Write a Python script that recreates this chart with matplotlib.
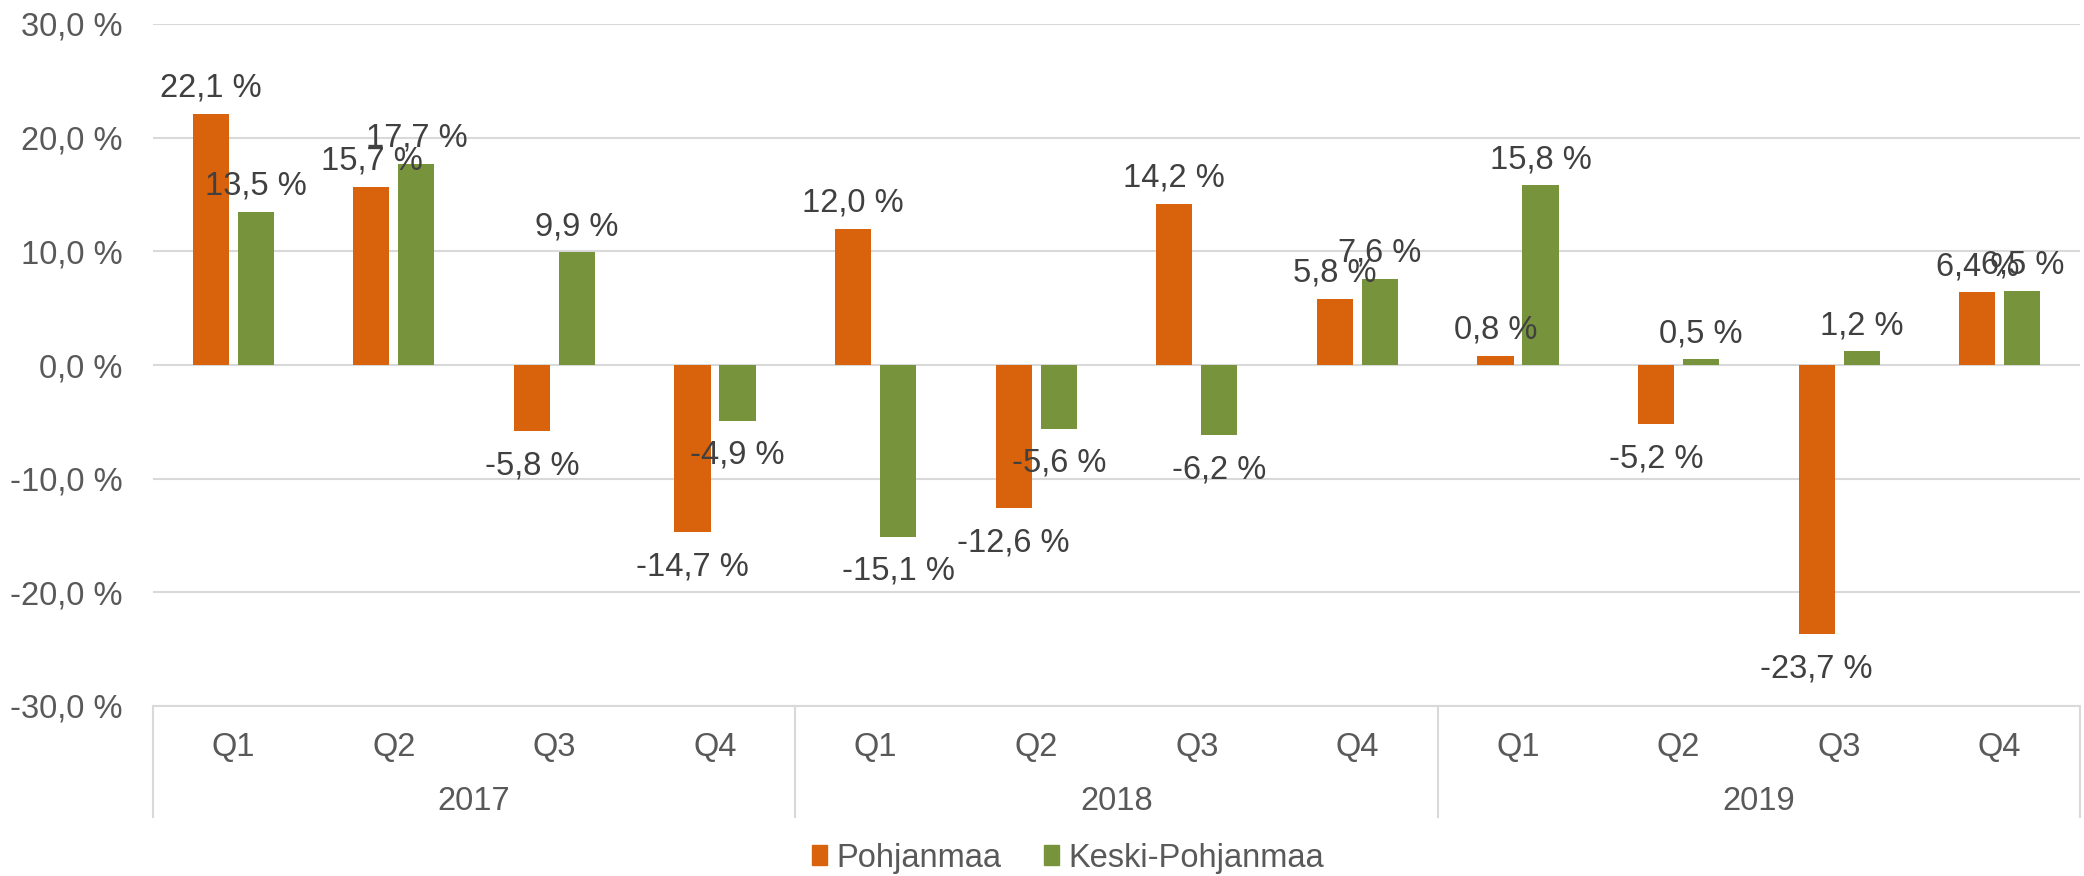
import matplotlib
matplotlib.use("Agg")
import matplotlib.pyplot as plt
import matplotlib.transforms as mtransforms
from matplotlib.patches import Patch
import numpy as np

plt.rcParams['font.family'] = ['Liberation Sans', 'DejaVu Sans']

quarters = ["Q1", "Q2", "Q3", "Q4"] * 3
years = ["2017", "2018", "2019"]
series_names = ["Pohjanmaa", "Keski-Pohjanmaa"]
pohjanmaa = [22.1, 15.7, -5.8, -14.7, 12.0, -12.6, 14.2, 5.8, 0.8, -5.2, -23.7, 6.4]
keski = [13.5, 17.7, 9.9, -4.9, -15.1, -5.6, -6.2, 7.6, 15.8, 0.5, 1.2, 6.5]
yticks = [-30, -20, -10, 0, 10, 20, 30]

colors = ["#D9620D", "#77933C"]
grid_c = "#D9D9D9"
tick_c = "#595959"
lab_c = "#404040"
fs = 23.5

W, H = 2084, 876
fig = plt.figure(figsize=(W / 100, H / 100), dpi=100)
ax = fig.add_axes([153 / W, 1 - 706 / H, (2080 - 153) / W, (706 - 24) / H])

x = np.arange(len(quarters))
bw = 0.225
off = 0.14
for vals, c, d in [(pohjanmaa, colors[0], -off), (keski, colors[1], off)]:
    ax.bar(x + d, vals, width=bw, color=c, zorder=3)
    for xi, v in zip(x, vals):
        txt = f"{v:.1f}".replace(".", ",") + " %"
        dy = 18.5 if v >= 0 else -25
        ax.annotate(txt, (xi + d, v), xytext=(0, dy), textcoords="offset points",
                    ha="center", va="center", fontsize=fs, color=lab_c, zorder=4)

ax.set_xlim(-0.5, len(quarters) - 0.5)
ax.set_ylim(-30, 30)
ax.set_yticks(yticks)
ax.set_yticklabels([f"{t:.1f}".replace(".", ",") + " %" for t in yticks])
ax.tick_params(axis="y", length=0, labelsize=fs, labelcolor=tick_c, pad=22)
ax.set_xticks([])
for s in ["left", "right", "top"]:
    ax.spines[s].set_visible(False)
ax.spines["bottom"].set_color(grid_c)
ax.spines["bottom"].set_linewidth(1.5)
ax.yaxis.grid(True, color=grid_c, linewidth=1.5, zorder=0)
ax.set_axisbelow(True)

tr = mtransforms.blended_transform_factory(ax.transData, ax.transAxes)
axh = 706 - 24
yq = (706 - 748) / axh
yy = (706 - 801) / axh
ysep = (706 - 817) / axh
for xi, q in zip(x, quarters):
    ax.text(xi, yq, q, transform=tr, ha="center", va="center", fontsize=fs, color=tick_c, clip_on=False)
for i, yr in enumerate(years):
    ax.text(i * 4 + 1.5, yy, yr, transform=tr, ha="center", va="center", fontsize=fs, color=tick_c, clip_on=False)
for sx in [-0.5, 3.5, 7.5, 11.5]:
    ax.plot([sx, sx], [0, ysep], transform=tr, color=grid_c, lw=1.5, clip_on=False)

handles = [Patch(color=colors[0]), Patch(color=colors[1])]
fig.legend(handles, series_names, loc="center", bbox_to_anchor=(1068 / W, 1 - 858 / H),
           ncol=2, frameon=False, fontsize=fs, labelcolor=tick_c,
           handlelength=0.45, handleheight=0.6, handletextpad=0.3, columnspacing=1.3)

fig.savefig("out.png", dpi=100)
